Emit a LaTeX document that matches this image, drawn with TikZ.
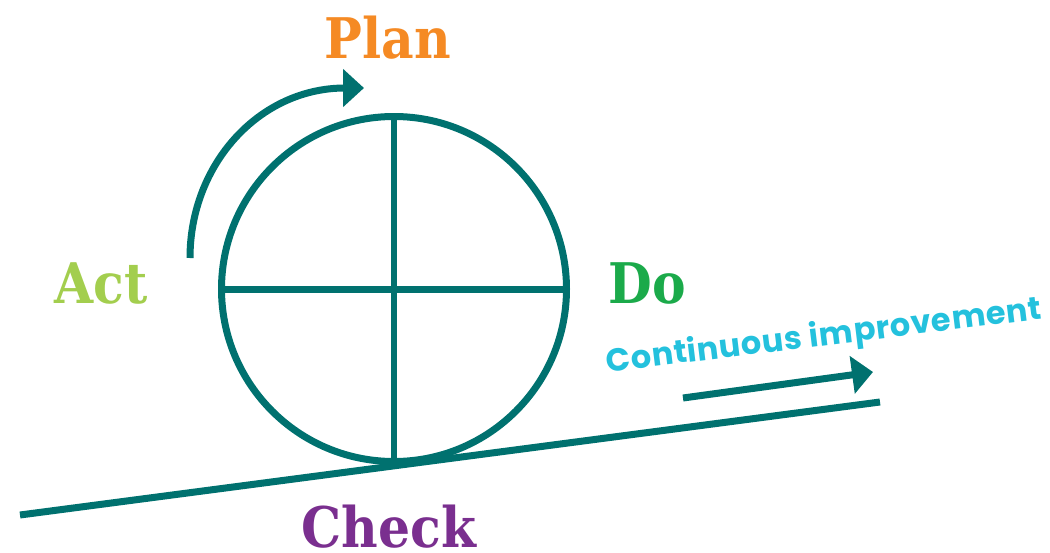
\documentclass[tikz,border=0pt]{standalone}
\usepackage{fontspec}
\setmainfont{DejaVu Serif}
\newfontfamily\ciFont[LetterSpace=2]{Poppins}
\usetikzlibrary{arrows.meta}
\definecolor{teal0}{HTML}{00716F}
\definecolor{planC}{HTML}{F58A24}
\definecolor{actC}{HTML}{A3CE4E}
\definecolor{doC}{HTML}{1BAA4A}
\definecolor{checkC}{HTML}{7A2F8F}
\definecolor{ciC}{HTML}{24C1DD}
\tikzset{
  tealline/.style={draw=teal0, line width=7pt},
  bigarrow/.style={tealline, -{Triangle[width=37pt,length=21pt]}},
  pdcaLabel/.style={font=\fontsize{56}{56}\selectfont\bfseries, inner sep=0pt, anchor=base, xscale=0.9},
  ciLabel/.style={font=\ciFont\fontsize{32}{32}\selectfont\bfseries, text=ciC, inner sep=0pt, rotate=7}
}
\begin{document}
\begin{tikzpicture}[x=1pt,y=-1pt]
\useasboundingbox (0,0) rectangle (1050,552);
% wheel
\coordinate (c) at (394,289);
\node[circle, tealline, minimum size=345pt, inner sep=0pt] (wheel) at (c) {};
\draw[tealline, line width=6pt] (wheel.north) -- (wheel.south);
\draw[tealline] (wheel.west) -- (wheel.east);
% ground
\coordinate (g1) at (20,515);
\coordinate (g2) at (880,402);
\draw[tealline] (g1) -- (g2);
% rotation arrow
\coordinate (a1) at (190,258);
\coordinate (a2) at (364,88);
\draw[bigarrow] (a1) arc[start angle=180, end angle=270, x radius=155, y radius=170] -- (a2);
% progress arrow
\coordinate (p1) at (683,398);
\coordinate (p2) at (873,372);
\draw[bigarrow] (p1) -- (p2);
% labels
\node[pdcaLabel, text=planC] (plan) at (388,58) {Plan};
\node[pdcaLabel, text=actC] (act) at (101,303) {Act};
\node[pdcaLabel, text=doC] (do) at (647,303) {Do};
\node[pdcaLabel, text=checkC] (check) at (389,547) {Check};
\node[ciLabel] (ci) at (824,337) {Continuous improvement};
\end{tikzpicture}
\end{document}
